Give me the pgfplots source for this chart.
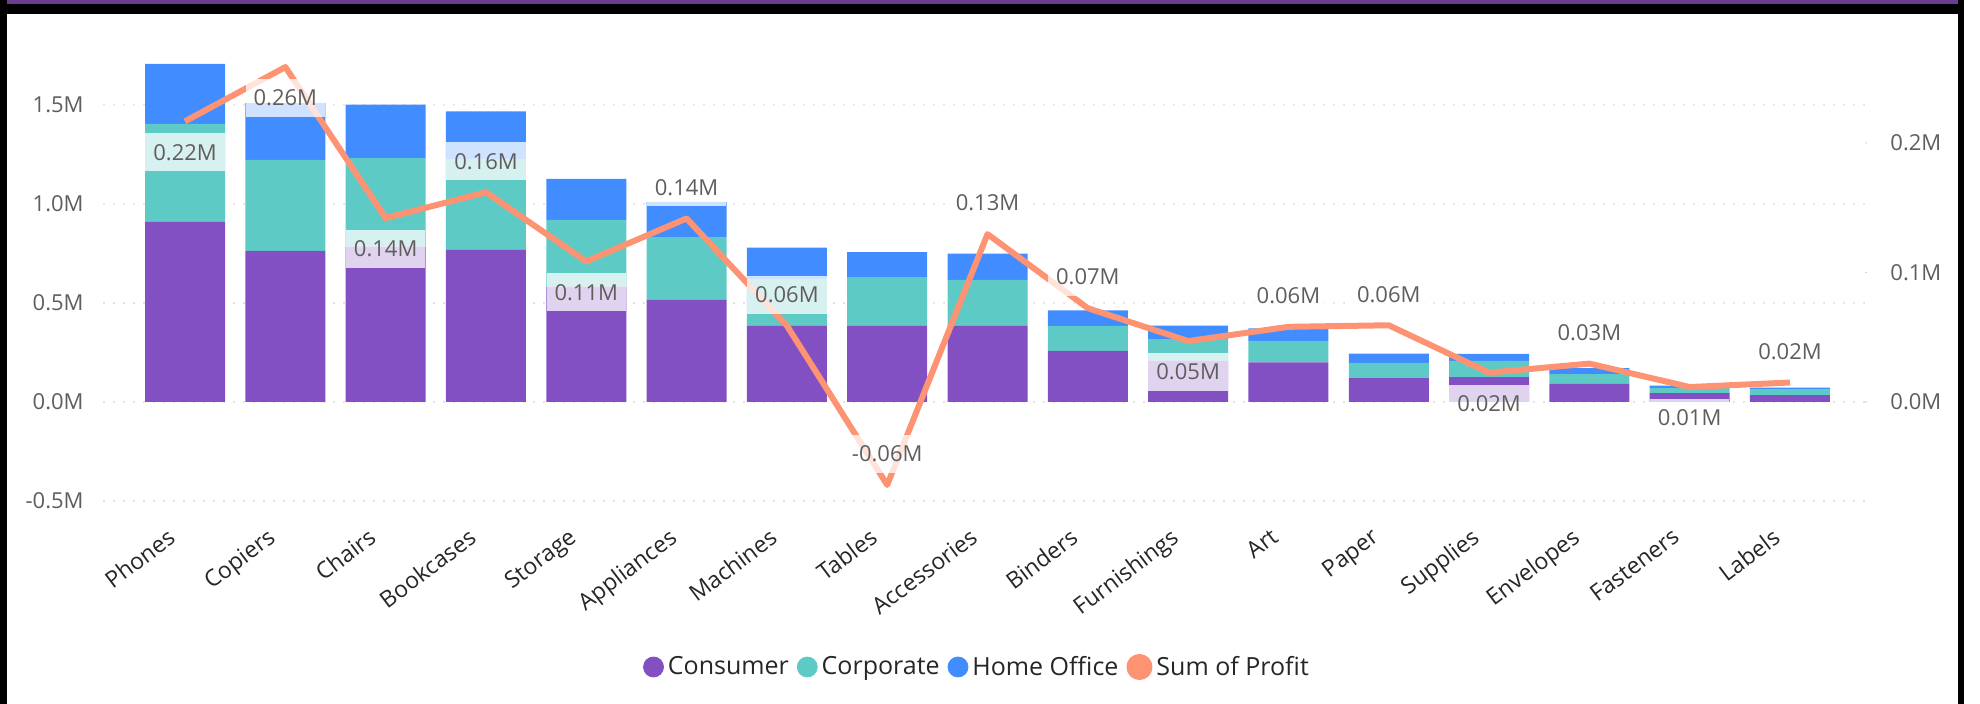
\documentclass[border=0pt]{standalone}
\usepackage{fontspec}
\setmainfont{Open Sans}
\usepackage{pgfplots}
\usepackage{pgfplotstable}
\pgfplotsset{compat=1.18}
\definecolor{cons}{HTML}{8350C4}
\definecolor{corp}{HTML}{5ECAC6}
\definecolor{home}{HTML}{418DFF}
\definecolor{prof}{HTML}{FD9373}
\definecolor{band}{HTML}{6B3D91}
\definecolor{labc}{HTML}{605E5C}
\definecolor{gridc}{HTML}{C8C6C4}

\pgfplotstableread{
x cat C Co HO
0 Phones 0.909 0.495 0.303
1 Copiers 0.763 0.459 0.287
2 Chairs 0.785 0.447 0.270
3 Bookcases 0.768 0.458 0.241
4 Storage 0.582 0.337 0.208
5 Appliances 0.515 0.318 0.178
6 Machines 0.384 0.236 0.159
7 Tables 0.384 0.247 0.126
8 Accessories 0.384 0.232 0.133
9 Binders 0.258 0.126 0.078
10 Furnishings 0.209 0.109 0.068
11 Art 0.200 0.108 0.064
12 Paper 0.120 0.077 0.047
13 Supplies 0.126 0.081 0.036
14 Envelopes 0.091 0.050 0.030
15 Fasteners 0.045 0.026 0.012
16 Labels 0.035 0.027 0.011
}\sales

\pgfplotstableread{
x P lab pos
0 0.2167 0.22M -1
1 0.2586 0.26M -1
2 0.1420 0.14M -1
3 0.1619 0.16M 1
4 0.1085 0.11M -1
5 0.1417 0.14M 1
6 0.0589 0.06M 1
7 -0.0641 -0.06M 1
8 0.1296 0.13M 1
9 0.0724 0.07M 1
10 0.0470 0.05M -1
11 0.0580 0.06M 1
12 0.0592 0.06M 1
13 0.0226 0.02M -1
14 0.0296 0.03M 1
15 0.0115 0.01M -1
16 0.0150 0.02M 1
}\profit

\begin{document}
\begin{tikzpicture}
\path[use as bounding box] (0pt,0pt) rectangle (990pt,352pt);
% frame
\fill[black] (0pt,0pt) rectangle (3.5pt,352pt);
\fill[black] (979pt,0pt) rectangle (982pt,352pt);
\fill[band] (3.5pt,350pt) rectangle (979pt,352pt);
\fill[black] (3.5pt,345pt) rectangle (979pt,350pt);

\begin{axis}[
  at={(52pt,94.5pt)}, anchor=south west, scale only axis,
  width=881pt, height=237.5pt,
  xmin=-0.808, xmax=16.758, ymin=-0.5707, ymax=1.828,
  ybar stacked, bar width=40pt,
  axis line style={draw=none}, major tick length=0pt,
  xtick={0,...,16},
  xticklabels={Phones,Copiers,Chairs,Bookcases,Storage,Appliances,Machines,Tables,Accessories,Binders,Furnishings,Art,Paper,Supplies,Envelopes,Fasteners,Labels},
  xticklabel style={rotate=37, anchor=north east, inner sep=0pt, xshift=-11pt, yshift=1pt, font=\fontsize{11.5}{13}\selectfont, text=black!85},
  ytick={-0.5,0,0.5,1,1.5}, yticklabels={-0.5M,0.0M,0.5M,1.0M,1.5M},
  yticklabel style={anchor=east, inner sep=0pt, xshift=-10pt, font=\fontsize{11}{13}\selectfont, text=labc},
  ymajorgrids,
  grid style={gridc, line width=0.8pt, dash pattern=on 0pt off 5pt, line cap=round},
]
\addplot[fill=cons, draw=none] table[x=x, y=C] {\sales};
\addplot[fill=corp, draw=none] table[x=x, y=Co] {\sales};
\addplot[fill=home, draw=none] table[x=x, y=HO] {\sales};
\end{axis}

\begin{axis}[
  at={(52pt,94.5pt)}, anchor=south west, scale only axis,
  width=881pt, height=237.5pt,
  xmin=-0.808, xmax=16.758, ymin=-0.0873, ymax=0.2795,
  axis y line*=right, axis x line=none, xtick=\empty,
  axis line style={draw=none},
  ytick={0,0.1,0.2}, yticklabels={0.0M,0.1M,0.2M},
  tick align=inside, major tick length=4pt,
  major tick style={gridc, line width=0.8pt, dash pattern=on 0pt off 4pt, line cap=round},
  yticklabel style={anchor=west, inner sep=0pt, xshift=12pt, font=\fontsize{11}{13}\selectfont, text=labc},
  legend style={at={(0.496,-0.32)}, anchor=center, draw=none, fill=none,
    legend columns=-1, font=\fontsize{12.5}{14}\selectfont, text=black!85,
    cells={anchor=west},
    /tikz/every even column/.append style={column sep=2pt}},
]
\addlegendimage{legend image code/.code={\fill[cons] (0pt,0pt) circle (5pt);}}
\addlegendentry{Consumer}
\addlegendimage{legend image code/.code={\fill[corp] (0pt,0pt) circle (5pt);}}
\addlegendentry{Corporate}
\addlegendimage{legend image code/.code={\fill[home] (0pt,0pt) circle (5pt);}}
\addlegendentry{Home Office}
\addplot[prof, line width=3pt, line join=round, mark=none,
  nodes near coords, point meta=explicit symbolic,
  visualization depends on={\thisrow{pos} \as \mypos},
  every node near coord/.style={anchor=center, yshift=\mypos*15.5pt, fill=white, fill opacity=0.75, text opacity=1, text=labc, font=\fontsize{11}{13}\selectfont, inner xsep=4pt, inner ysep=0pt, minimum height=19pt},
  legend image code/.code={\fill[prof] (0pt,0pt) circle (5pt);}
] table[x=x, y=P, meta=lab] {\profit};
\addlegendentry{Sum of Profit}
\end{axis}
\end{tikzpicture}
\end{document}
